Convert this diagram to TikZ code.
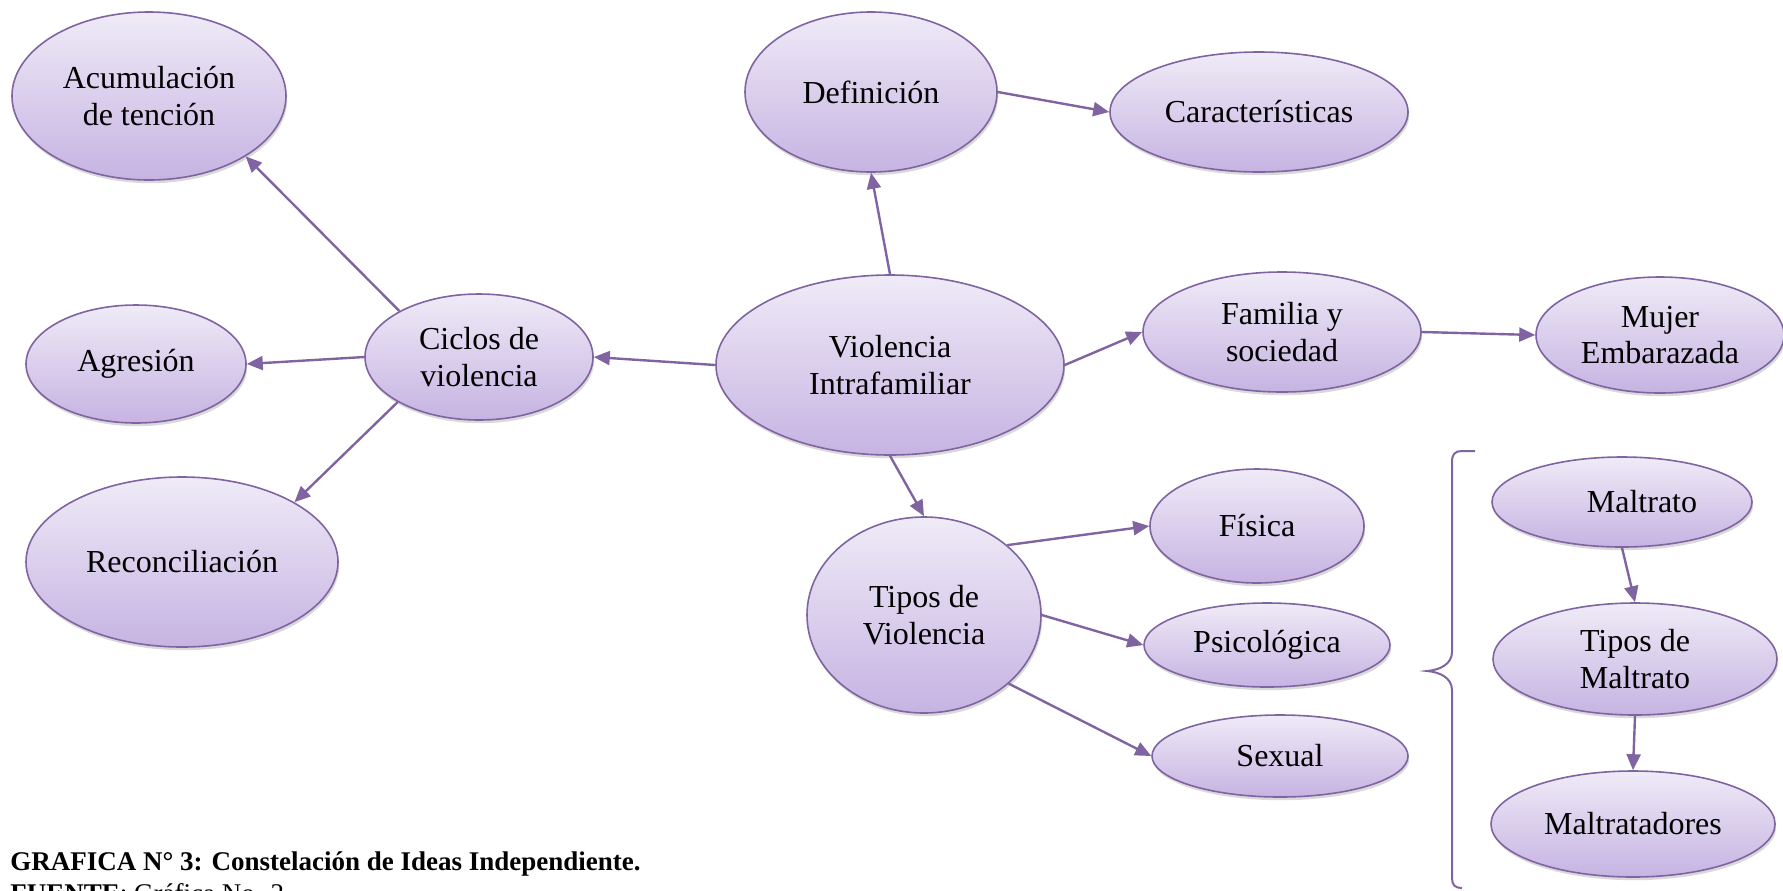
\documentclass[tikz,border=0pt]{standalone}
\usepackage{fontspec}
\setmainfont{Liberation Serif}
\usepackage{tikz}
\usetikzlibrary{
	positioning
	,shapes.geometric
	,arrows.meta
	,shadows
}
\definecolor{morado}{RGB}{128,100,162}
\definecolor{lilaclaro}{RGB}{239,235,247}
\definecolor{lilaoscuro}{RGB}{198,179,226}
\newcommand{\flecha}[3][]{
	\path (#2) edge[conector,#1] (#3);
}
\tikzset{
	idea/.style={
		ellipse,
		draw=morado,
		line width=0.8pt,
		top color=lilaclaro,
		bottom color=lilaoscuro,
		inner sep=0pt,
		align=center,
		font=\fontsize{16}{18.4}\selectfont,
		drop shadow={shadow xshift=0.6pt,shadow yshift=-1.6pt,opacity=0.25,fill=black!60}
	},
	tam/.style 2 args={
		minimum width=#1pt,
		minimum height=#2pt
	},
	conector/.style={
		->,
		draw=morado,
		line width=1.2pt
	},
	llave/.style={
		draw=morado,
		line width=1pt
	},
	pie/.style={
		anchor=base west,
		inner sep=0pt,
		font=\fontsize{13.5}{15.5}\selectfont
	}
}
\tikzset{
	>={Triangle[length=8pt,width=7pt]}
}
\begin{document}
\begin{tikzpicture}[x=0.5pt,y=-0.5pt]
	\useasboundingbox (0,0) rectangle (1783,890);
	
	\node[idea,tam={137}{84}](acum) at(149,96){Acumulación\\de tención};
	\node[idea,tam={110}{59}](agre) at(136,364){Agresión};
	\node[idea,tam={114}{63}](ciclos) at(479,357){Ciclos de\\violencia};
	\node[idea,tam={156}{85}](recon) at(182,562){Reconciliación};
	
	\node[idea,tam={174}{90}](vif) at(890,365){Violencia\\Intrafamiliar};
	\node[idea,tam={126}{80}](def) at(871,92){Definición};
	\node[idea,tam={149}{60}](caract) at(1259,112){Características};
	\node[idea,tam={139}{60}](fam) at(1282,332){Familia y\\sociedad};
	\node[idea,tam={124}{58}](mujer) at(1660,335){Mujer\\Embarazada};
	
	\node[idea,tam={117}{98}](tipos) at(924,615){Tipos de\\Violencia};
	\node[idea,tam={107}{57}](fis) at(1257,526){Física};
	\node[idea,tam={123}{42}](psico) at(1267,645){Psicológica};
	\node[idea,tam={128}{41}](sex) at(1280,756){Sexual};
	
	\node[idea,tam={130}{45}](malt) at(1622,502){\hspace*{20pt}Maltrato};
	\node[idea,tam={142}{56}](tiposm) at(1635,659){Tipos de\\Maltrato};
	\node[idea,tam={142}{53}](maltres) at(1633,824){Maltratadores};
	
	\foreach \a/\b in{
		vif.west/ciclos.east,ciclos.west/agre.east,ciclos.150/acum.328,%
		ciclos.209/recon.28,vif.north/def.south,def.east/caract.west,%
		vif.east/fam.west,fam.east/mujer.west,vif.south/tipos.north,%
		tipos.40/fis.west,tipos.east/psico.west,tipos.321/sex.west,%
		malt.south/tiposm.north,tiposm.south/maltres.north%
	}{
		\flecha{\a}{\b};
	}
	
	% llave
	\draw[llave] (1475,451) -- (1462,451) .. controls (1455,451) and (1452,454) .. (1452,462)
		-- (1452,652) .. controls (1452,664) and (1440,670) .. (1427,671)
		.. controls (1440,672) and (1452,678) .. (1452,690)
		-- (1452,878) .. controls (1452,885) and (1455,888) .. (1462,888);
	
	\node[pie](titulo) at(10,870){\textbf{GRAFICA N° 3: Constelación de Ideas Independiente.}};
	\node[pie](fuente) at(10,902){\textbf{FUENTE}: Gráfica No. 2};
\end{tikzpicture}
\end{document}
